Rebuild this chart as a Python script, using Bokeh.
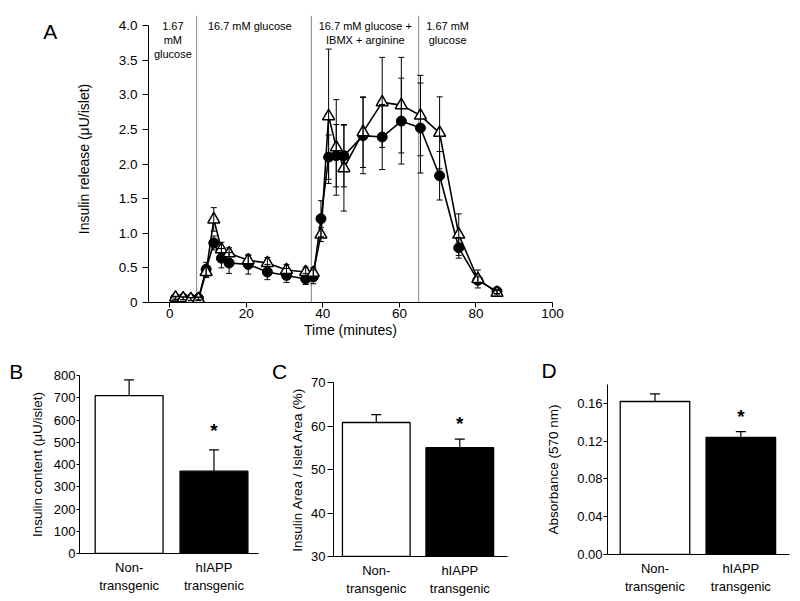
from bokeh.plotting import figure
from bokeh.models import (ColumnDataSource, Whisker, TeeHead, Label, Span, Range1d,
                          FixedTicker, NumeralTickFormatter)
from bokeh.layouts import column, row
from bokeh.embed import file_html
from bokeh.resources import INLINE

FONT = "Liberation Sans"

# ---------------- Panel A data ----------------
time_min = [1.5, 3.5, 5.5, 7.5, 9.5, 11.5, 13.5, 15.5, 20.5, 25.5, 30.5, 35.5, 37.5,
            39.5, 41.5, 43.5, 45.5, 50.5, 55.5, 60.5, 65.5, 70.5, 75.5, 80.5, 85.5]
hiapp_mean = [0.06, 0.06, 0.05, 0.06, 0.48, 0.86, 0.64, 0.57, 0.55, 0.44, 0.39, 0.34, 0.37,
              1.21, 2.10, 2.12, 2.12, 2.41, 2.39, 2.62, 2.52, 1.83, 0.79, 0.32, 0.16]
hiapp_sem = [0.02, 0.02, 0.02, 0.02, 0.10, 0.10, 0.14, 0.15, 0.14, 0.11, 0.10, 0.08, 0.10,
             0.26, 0.32, 0.45, 0.45, 0.55, 0.47, 0.62, 0.65, 0.35, 0.15, 0.05, 0.03]
nontg_mean = [0.07, 0.06, 0.05, 0.05, 0.44, 1.20, 0.77, 0.71, 0.61, 0.57, 0.47, 0.44, 0.43,
              0.98, 2.69, 2.24, 1.94, 2.46, 2.89, 2.85, 2.70, 2.45, 0.98, 0.34, 0.14]
nontg_sem = [0.02, 0.02, 0.02, 0.02, 0.08, 0.17, 0.10, 0.08, 0.07, 0.08, 0.08, 0.07, 0.07,
             0.10, 0.97, 0.69, 0.62, 0.51, 0.65, 0.69, 0.58, 0.52, 0.30, 0.13, 0.03]
phase_bounds = [7, 37, 65]
phase_labels = [
    (0.8, ["1.67", "mM", "glucose"]),
    (20.9, ["16.7 mM glucose"]),
    (51.1, ["16.7 mM glucose +", "IBMX + arginine"]),
    (72.6, ["1.67 mM", "glucose"]),
]
a_xticks = [0, 20, 40, 60, 80, 100]
a_yticks = [0, 0.5, 1.0, 1.5, 2.0, 2.5, 3.0, 3.5, 4.0]

# ---------------- Panels B-D data ----------------
groups = ["Non-\ntransgenic", "hIAPP\ntransgenic"]
content_mean = [710, 370]
content_sem = [70, 96]
area_mean = [60.8, 55.0]
area_sem = [1.8, 2.0]
absorb_mean = [0.162, 0.124]
absorb_sem = [0.008, 0.006]
b_yticks = [0, 100, 200, 300, 400, 500, 600, 700, 800]
c_yticks = [30, 40, 50, 60, 70]
d_yticks = [0.0, 0.04, 0.08, 0.12, 0.16]


def iso(*items):
    """Wrap plots in their own column so that their frames are not aligned with neighbours."""
    return column(*items, spacing=0)


def base_style(p, tick_size, label_size):
    p.xgrid.visible = False
    p.ygrid.visible = False
    p.outline_line_color = None
    p.background_fill_color = "white"
    p.border_fill_color = "white"
    for ax in (p.xaxis[0], p.yaxis[0]):
        ax.axis_line_color = "black"
        ax.axis_line_width = 1
        ax.major_tick_line_color = "black"
        ax.major_tick_line_width = 1
        ax.major_tick_in = 0
        ax.minor_tick_line_color = None
        ax.major_label_text_font = FONT
        ax.major_label_text_font_size = tick_size
        ax.major_label_text_color = "black"
        ax.axis_label_text_font = FONT
        ax.axis_label_text_font_size = label_size
        ax.axis_label_text_font_style = "normal"
        ax.axis_label_text_color = "black"


def letter_fig(text, w, h, cx, cy):
    """A small axis-less figure holding one panel letter (cx, cy measured from top-left)."""
    f = figure(width=w, height=h, x_range=Range1d(0, w), y_range=Range1d(0, h),
               x_axis_location=None, y_axis_location=None, output_backend="svg",
               toolbar_location=None, min_border=0)
    f.xgrid.visible = False
    f.ygrid.visible = False
    f.grid.grid_line_color = None
    f.outline_line_color = None
    f.border_fill_color = "white"
    f.background_fill_color = "white"
    f.add_layout(Label(x=cx, y=h - cy, text=text, text_align="center",
                       text_baseline="middle", text_font=FONT, text_font_size="21px",
                       text_color="black"))
    return f


# ---------------- Panel A ----------------
pA = figure(width=730, height=348, x_range=Range1d(-5.56, 100), y_range=Range1d(0, 4.145),
            output_backend="svg", toolbar_location=None,
            min_border_left=78, min_border_right=248, min_border_top=15, min_border_bottom=46)
base_style(pA, "13.5px", "14px")
pA.xaxis.ticker = FixedTicker(ticks=a_xticks)
pA.yaxis.ticker = FixedTicker(ticks=a_yticks)
pA.yaxis.bounds = (0, 4)
pA.yaxis.formatter = NumeralTickFormatter(format="0.0")
pA.yaxis.major_label_overrides = {0: "0"}
pA.xaxis.major_tick_out = 5
pA.yaxis.major_tick_out = 6
pA.xaxis.major_label_standoff = 1
pA.yaxis.major_label_standoff = 5
pA.xaxis.axis_label = "Time (minutes)"
pA.yaxis.axis_label = "Insulin release (μU/islet)"
pA.xaxis.axis_label_standoff = 1
pA.yaxis.axis_label_standoff = 24

for b in phase_bounds:
    pA.add_layout(Span(location=b, dimension="height", line_color="#9a9a9a",
                       line_width=1.2, level="underlay"))

line_heights = [3.987, 3.794, 3.592]
for xc, lines in phase_labels:
    for i, t in enumerate(lines):
        pA.add_layout(Label(x=xc, y=line_heights[i], text=t, text_align="center",
                            text_baseline="middle", text_font=FONT, text_font_size="11px",
                            text_color="black"))

src_h = ColumnDataSource(dict(x=time_min, y=hiapp_mean,
                              lo=[m - s for m, s in zip(hiapp_mean, hiapp_sem)],
                              hi=[m + s for m, s in zip(hiapp_mean, hiapp_sem)]))
src_n = ColumnDataSource(dict(x=time_min, y=nontg_mean,
                              lo=[m - s for m, s in zip(nontg_mean, nontg_sem)],
                              hi=[m + s for m, s in zip(nontg_mean, nontg_sem)]))

for src in (src_h, src_n):
    pA.add_layout(Whisker(base="x", lower="lo", upper="hi", source=src, line_color="black",
                          line_width=1, level="glyph",
                          upper_head=TeeHead(size=6, line_color="black", line_width=1),
                          lower_head=TeeHead(size=6, line_color="black", line_width=1)))
pA.line("x", "y", source=src_h, line_color="black", line_width=1.6)
pA.line("x", "y", source=src_n, line_color="black", line_width=1.6)
pA.scatter("x", "y", source=src_h, marker="circle", size=10, fill_color="black",
           line_color="black", line_width=1)
pA.scatter("x", "y", source=src_n, marker="triangle", size=12, fill_color="white",
           line_color="black", line_width=1.5)
lA = letter_fig("A", 70, 348, 49.7, 30.7)


# ---------------- Bar panels ----------------
def bar_panel(width, height, left, right, top, bottom, xr, yr, yticks, fmt, ylabel, means,
              sems, bar_bottom, bar_w, star_y, tick_out, tick_standoff, label_standoff):
    p = figure(width=width, height=height, x_range=Range1d(*xr), y_range=Range1d(*yr),
               output_backend="svg", toolbar_location=None,
               min_border_left=left, min_border_right=right,
               min_border_top=top, min_border_bottom=bottom)
    base_style(p, "13px", "13.5px")
    p.yaxis.ticker = FixedTicker(ticks=yticks)
    if fmt:
        p.yaxis.formatter = NumeralTickFormatter(format=fmt)
    p.yaxis.major_tick_out = tick_out
    p.yaxis.major_label_standoff = tick_standoff
    p.yaxis.axis_label = ylabel
    p.yaxis.axis_label_standoff = label_standoff
    p.xaxis.ticker = FixedTicker(ticks=[1, 2])
    p.xaxis.major_label_overrides = {1: groups[0], 2: groups[1]}
    p.xaxis.major_tick_out = 0
    p.xaxis.major_label_standoff = 6
    p.xaxis.major_label_text_font_size = "13px"

    src = ColumnDataSource(dict(x=[1, 2], top=means, fill=["white", "black"],
                                up=[m + s for m, s in zip(means, sems)]))
    p.add_layout(Whisker(base="x", lower="top", upper="up", source=src, line_color="black",
                         line_width=1.2, level="underlay",
                         upper_head=TeeHead(size=10, line_color="black", line_width=1.2),
                         lower_head=None))
    p.vbar(x="x", top="top", bottom=bar_bottom, width=bar_w, source=src, fill_color="fill",
           line_color="black", line_width=1.3)
    p.add_layout(Label(x=2, y=star_y, text="*", text_align="center",
                       text_baseline="alphabetic", text_font=FONT, text_font_size="19px",
                       text_font_style="bold", text_color="black"))
    return p


pB = bar_panel(244, 252, 51, 12, 27, 47, (0.415, 2.525), (0, 800), b_yticks, None,
               "Insulin content (μU/islet)", content_mean, content_sem, 0, 0.80,
               555, 3, 1, 6)
lB = letter_fig("B", 26, 252, 15.7, 22.7)

pC = bar_panel(248, 252, 42, 28, 34, 44, (0.488, 2.571), (30, 70), c_yticks, None,
               "Insulin Area / Islet Area (%)", area_mean, area_sem, 30, 0.81,
               60.6, 6, 2, 3)
lC = letter_fig("C", 17, 252, 9.0, 23.0)

pD = bar_panel(265, 216, 72, 11, 0, 46, (0.447, 2.567), (0, 0.18), d_yticks, "0.00",
               "Absorbance (570 nm)", absorb_mean, absorb_sem, 0, 0.81,
               0.1463, 4, 1, 13)
lD = letter_fig("D", 265, 36, 13.7, 22.0)

top_row = row(iso(lA), iso(pA), spacing=0)
bottom_row = row(iso(lB), iso(pB), iso(lC), iso(pC), column(iso(lD), iso(pD), spacing=0),
                 spacing=0)
layout = column(top_row, bottom_row, spacing=0)
open("out.html", "w").write(file_html(layout, INLINE))
